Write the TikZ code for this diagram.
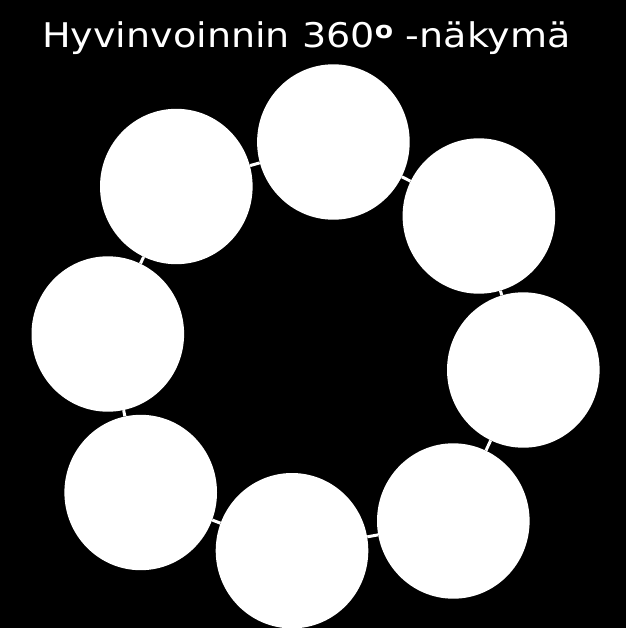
\documentclass[tikz,border=0pt]{standalone}
\usepackage{fontspec}
\setmainfont{DejaVu Sans}
\usetikzlibrary{shapes.geometric}
\tikzset{
    pallo/.style={ellipse, fill=white, draw=none, inner sep=0pt, minimum width=152.6pt, minimum height=155.4pt}, % the white circles
    linkki/.style={draw=white, line width=3pt}, % short links between circles
}

\begin{document}
\begin{tikzpicture}[x=1pt, y=-1pt]
    \fill[black] (0,0) rectangle (626,628);
    \useasboundingbox (0,0) rectangle (626,628);

    % Otsikko
    \node[anchor=base west, text=white, font=\fontsize{34}{40}\selectfont, inner sep=0pt] (otsikko) at (42,47.5) {\scalebox{1.12}[1]{Hyvinvoinnin 360\textsuperscript{\textbf{o}} -näkymä}};

    % Pallot
    \node[pallo] (p1) at (333.4,142) {};
    \node[pallo] (p2) at (478.9,216) {};
    \node[pallo] (p3) at (523.3,370) {};
    \node[pallo] (p4) at (453.3,521) {};
    \node[pallo] (p5) at (292,550.7) {};
    \node[pallo] (p6) at (140.7,492.5) {};
    \node[pallo] (p7) at (107.8,334) {};
    \node[pallo] (p8) at (176.3,186.5) {};

    % Linkit
    \path[linkki]
    (p1) edge (p2)
    (p2) edge (p3)
    (p3) edge (p4)
    (p4) edge (p5)
    (p5) edge (p6)
    (p6) edge (p7)
    (p7) edge (p8)
    (p8) edge (p1);

\end{tikzpicture}
\end{document}
